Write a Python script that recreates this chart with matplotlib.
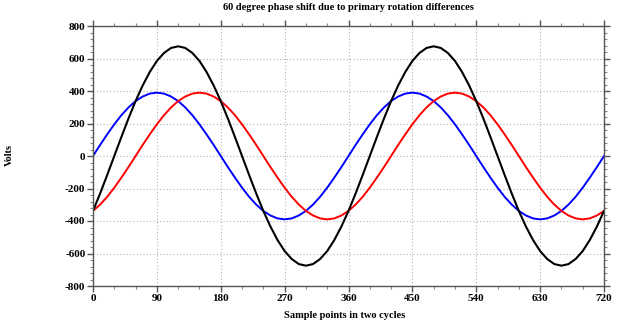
import matplotlib
matplotlib.use("Agg")
import matplotlib.pyplot as plt
from matplotlib.ticker import MultipleLocator

# sample points (degrees), one value every 10 degrees over two cycles
x_deg = list(range(0, 721, 10))

# blue phase
phase_a = [0, 68, 133, 195, 251, 299, 338, 366, 384, 390, 384, 366, 338, 299, 251, 195, 133, 68,
           0, -68, -133, -195, -251, -299, -338, -366, -384, -390, -384, -366, -338, -299, -251, -195, -133, -68,
           0, 68, 133, 195, 251, 299, 338, 366, 384, 390, 384, 366, 338, 299, 251, 195, 133, 68,
           0, -68, -133, -195, -251, -299, -338, -366, -384, -390, -384, -366, -338, -299, -251, -195, -133, -68,
           0]

# red phase (60 degrees behind)
phase_b = [-338, -299, -251, -195, -133, -68, 0, 68, 133, 195, 251, 299, 338, 366, 384, 390, 384, 366,
           338, 299, 251, 195, 133, 68, 0, -68, -133, -195, -251, -299, -338, -366, -384, -390, -384, -366,
           -338, -299, -251, -195, -133, -68, 0, 68, 133, 195, 251, 299, 338, 366, 384, 390, 384, 366,
           338, 299, 251, 195, 133, 68, 0, -68, -133, -195, -251, -299, -338, -366, -384, -390, -384, -366,
           -338]

# black resultant
resultant = [-338, -231, -117, 0, 117, 231, 338, 434, 517, 585, 634, 665, 675, 665, 634, 585, 517, 434,
             338, 231, 117, 0, -117, -231, -338, -434, -517, -585, -634, -665, -675, -665, -634, -585, -517, -434,
             -338, -231, -117, 0, 117, 231, 338, 434, 517, 585, 634, 665, 675, 665, 634, 585, 517, 434,
             338, 231, 117, 0, -117, -231, -338, -434, -517, -585, -634, -665, -675, -665, -634, -585, -517, -434,
             -338]

x_ticks = [0, 90, 180, 270, 360, 450, 540, 630, 720]
y_ticks = [-800, -600, -400, -200, 0, 200, 400, 600, 800]

plt.rcParams['font.family'] = ['Liberation Serif', 'DejaVu Serif']
plt.rcParams['font.weight'] = 'bold'
plt.rcParams['axes.unicode_minus'] = False

fig = plt.figure(figsize=(6.24, 3.26), dpi=100)
ax = fig.add_axes([93 / 624, 40 / 326, 511 / 624, 260 / 326])

ax.plot(x_deg, phase_a, color='#0000ff', lw=1.4)
ax.plot(x_deg, phase_b, color='#ff0000', lw=1.4)
ax.plot(x_deg, resultant, color='#000000', lw=1.5)

ax.set_xlim(0, 720)
ax.set_ylim(-800, 800)
ax.set_xticks(x_ticks)
ax.set_yticks(y_ticks)
ax.xaxis.set_minor_locator(MultipleLocator(30))
ax.yaxis.set_minor_locator(MultipleLocator(40))

for s in ax.spines.values():
    s.set_color('#555555')
    s.set_linewidth(1.0)

ax.tick_params(which='major', direction='out', length=4, width=1, color='#555555',
               labelsize=8, pad=1.5)
ax.tick_params(which='minor', direction='out', length=2, width=0.8, color='#888888')
ax.tick_params(which='both', top=True, right=True)
for t in ax.get_xticklabels() + ax.get_yticklabels():
    t.set_fontweight('bold')

ax.grid(True, which='major', linestyle=(0, (1, 2)), color='#b4b4b4', linewidth=0.8)

fig.text(348 / 624, 1 - 8 / 326, '60 degree phase shift due to primary rotation differences',
         ha='center', va='center', fontsize=7.5, fontweight='bold')
fig.text(345 / 624, 1 - 316 / 326, 'Sample points in two cycles',
         ha='center', va='center', fontsize=7.5, fontweight='bold')
fig.text(9 / 624, 1 - 155 / 326, 'Volts', ha='center', va='center', rotation=90,
         fontsize=7.5, fontweight='bold')

fig.savefig('out.png', dpi=100)
